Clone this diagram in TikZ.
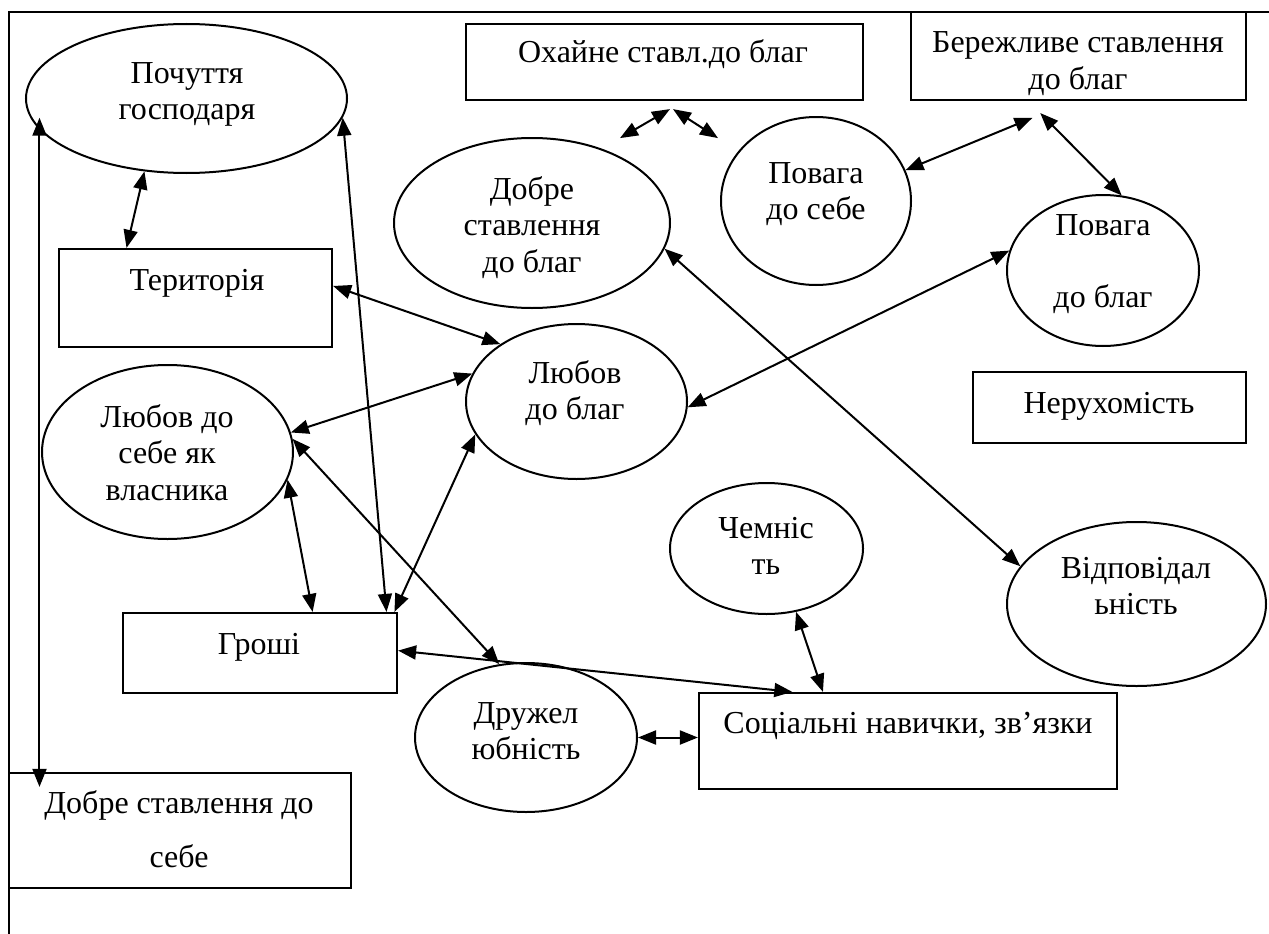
\documentclass[tikz,border=0pt]{standalone}
\usepackage{fontspec}
\setmainfont{Liberation Serif}
\usetikzlibrary{arrows.meta,shapes.geometric,calc}
% centred lines whose baseline is the first line
\newcommand{\mlines}[1]{\begin{tabular}[t]{@{}c@{}}#1\end{tabular}}

\begin{document}
\begin{tikzpicture}[x=1pt,y=-1pt,
  every node/.style={inner sep=0pt},
  ell/.style={draw, ellipse, line width=2pt},
  box/.style={draw, rectangle, line width=2.2pt},
  lbl/.style={anchor=base, font=\fontsize{32}{36.8}\selectfont},
  link/.style={line width=2pt, >={Triangle[length=18pt,width=14pt]}, <->}
]
\useasboundingbox (0,0) rectangle (1269,934);

% page frame
\draw[line width=2.2pt] (1269,12) -- (9,12) -- (9,934);

% shapes
\node[ell, minimum width=321pt, minimum height=149pt] (pochuttya) at (186.5,98.5) {};
\node[box, minimum width=273pt, minimum height=98pt]  (terr) at (195.5,298) {};
\node[ell, minimum width=251pt, minimum height=174pt] (lyubovSebe) at (167.5,452) {};
\node[box, minimum width=274pt, minimum height=80pt]  (groshi) at (260,653) {};
\node[box, minimum width=342pt, minimum height=115pt] (dobreSebe) at (180,830.5) {};
\node[box, minimum width=397pt, minimum height=76pt]  (okhaine) at (664.5,62) {};
\node[box, minimum width=335pt, minimum height=88pt]  (berezhlyve) at (1078.5,56) {};
\node[ell, minimum width=276pt, minimum height=170pt] (dobreBlag) at (532,223) {};
\node[ell, minimum width=190pt, minimum height=168pt] (povagaSebe) at (816,201) {};
\node[ell, minimum width=192pt, minimum height=151pt] (povagaBlag) at (1103,270.5) {};
\node[ell, minimum width=221pt, minimum height=155pt] (lyubovBlag) at (576.5,401.5) {};
\node[box, minimum width=273pt, minimum height=71pt]  (nerukh) at (1109.5,407.5) {};
\node[ell, minimum width=193pt, minimum height=131pt] (chemnist) at (766.5,548.5) {};
\node[ell, minimum width=259pt, minimum height=164pt] (vidpov) at (1136.5,604) {};
\node[box, minimum width=418pt, minimum height=96pt]  (social) at (908,741) {};
\node[ell, minimum width=222pt, minimum height=149pt] (druzh) at (526,737.5) {};

% texts
\node[lbl] (tPochuttya) at (187,83) {\mlines{Почуття\\господаря}};
\node[lbl] (tTerr) at (197,290) {Територія};
\node[lbl] (tLyubovSebe) at (167,427) {\mlines{Любов до\\себе як\\власника}};
\node[lbl] (tGroshi) at (259,654) {Гроші};
\node[lbl] (tDobreSebe) at (179,813) {\mlines{Добре ставлення до\\[17.2pt]себе}};
\node[lbl] (tOkhaine) at (663,63) {Охайне ставл.до благ};
\node[lbl] (tBerezhlyve) at (1078,53) {\mlines{Бережливе ставлення\\до благ}};
\node[lbl] (tDobreBlag) at (532,199) {\mlines{Добре\\ставлення\\до благ}};
\node[lbl] (tPovagaSebe) at (816,183) {\mlines{Повага\\до себе}};
\node[lbl] (tPovagaBlag) at (1103,235) {\mlines{Повага\\[36pt]до благ}};
\node[lbl] (tLyubovBlag) at (575,383) {\mlines{Любов\\до благ}};
\node[lbl] (tNerukh) at (1109,413) {Нерухомість};
\node[lbl] (tChemnist) at (766,538) {\mlines{Чемніс\\ть}};
\node[lbl] (tVidpov) at (1136,578) {\mlines{Відповідал\\ьність}};
\node[lbl] (tSocial) at (908,733) {Соціальні навички, зв’язки};
\node[lbl] (tDruzh) at (526,723) {\mlines{Дружел\\юбність}};

% connectors
\draw[link, shorten <=-12pt, shorten >=-15pt] (pochuttya.192.6) -- (pochuttya.192.6 |- dobreSebe.north);
\draw[link] (pochuttya.240.5) -- (terr.144.9);
\draw[link] (pochuttya.-7.9) -- (groshi.18.2);
\draw[link] (terr.5.4) -- (lyubovBlag.143.4);
\draw[link] (lyubovSebe.9.4) -- (lyubovBlag.165.1);
\draw[link] (lyubovSebe.6.8) -- (druzh.110.3);
\draw[link] (lyubovSebe.-13.9) -- (groshi.38.3);
\draw[link] (lyubovBlag.198.1) -- (groshi.17.6);
\draw[link] (groshi.1.3) -- (social.157.4);
\draw[link] (druzh.east) -- (druzh.east -| social.west);
\draw[link] (chemnist.-65) -- (social.150.8);
\draw[link] (dobreBlag.-11.7) -- (vidpov.162.8);
\draw[link] (lyubovBlag.-3.9) -- (povagaBlag.168);
\draw[link, shorten >=43.7pt] (povagaSebe.19) -- (berezhlyve.-97.1);
\draw[link, shorten <=16.8pt] (berezhlyve.222.2) -- (povagaBlag.76.9);

% two short arrows under the top box
\coordinate (oa1) at ($(okhaine.south)+(-44.5,37)$);
\coordinate (oa2) at ($(okhaine.south)+(5.5,8)$);
\coordinate (ob1) at ($(okhaine.south)+(8.5,8)$);
\coordinate (ob2) at ($(okhaine.south)+(53.5,37)$);
\draw[link] (oa1) -- (oa2);
\draw[link] (ob1) -- (ob2);
\end{tikzpicture}
\end{document}
